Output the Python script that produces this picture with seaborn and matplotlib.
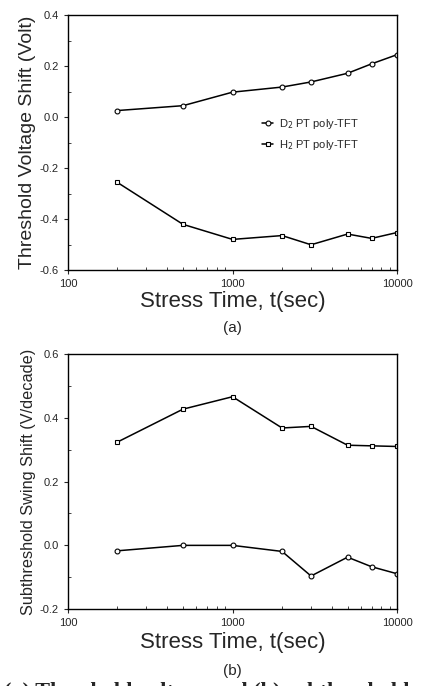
import numpy as np
import pandas as pd
import seaborn as sns
import matplotlib.pyplot as plt
from matplotlib.ticker import MultipleLocator, LogLocator, NullFormatter, FormatStrFormatter

sns.set_style("ticks")
plt.rcParams['font.family'] = ['Liberation Sans', 'DejaVu Sans']

stress_time = [200, 500, 1000, 2000, 3000, 5000, 7000, 10000]

vth_d2 = [0.026, 0.045, 0.098, 0.118, 0.138, 0.172, 0.209, 0.245]
vth_h2 = [-0.256, -0.420, -0.479, -0.464, -0.500, -0.458, -0.475, -0.452]

ss_h2 = [0.324, 0.427, 0.466, 0.368, 0.373, 0.314, 0.312, 0.310]
ss_d2 = [-0.017, 0.0, 0.0, -0.019, -0.096, -0.037, -0.067, -0.089]

labels = ['D$_2$ PT poly-TFT', 'H$_2$ PT poly-TFT']

fig = plt.figure(figsize=(4.22, 6.86), dpi=100)
ax1 = fig.add_axes([0.161, 0.606, 0.780, 0.372])
ax2 = fig.add_axes([0.161, 0.112, 0.780, 0.372])


def draw(ax, d2, h2, legend):
    df = pd.DataFrame({'t': stress_time * 2,
                       'v': d2 + h2,
                       'grp': [labels[0]] * len(d2) + [labels[1]] * len(h2)})
    sns.lineplot(data=df, x='t', y='v', hue='grp', style='grp',
                 markers={labels[0]: 'o', labels[1]: 's'}, dashes=False,
                 palette=['black', 'black'], linewidth=1.1, markersize=3.5,
                 markerfacecolor='white', markeredgecolor='black',
                 markeredgewidth=0.8, ax=ax, legend=legend)
    ax.set_xscale('log')
    ax.set_xlim(100, 10000)
    ax.xaxis.set_minor_locator(LogLocator(base=10, subs=np.arange(2, 10), numticks=20))
    ax.xaxis.set_minor_formatter(NullFormatter())
    ax.set_xticks([100, 1000, 10000])
    ax.set_xticklabels(['100', '1000', '10000'])
    ax.yaxis.set_major_locator(MultipleLocator(0.2))
    ax.yaxis.set_minor_locator(MultipleLocator(0.1))
    ax.yaxis.set_major_formatter(FormatStrFormatter('%.1f'))
    ax.tick_params(which='major', direction='out', length=3, width=0.8, labelsize=8)
    ax.tick_params(which='minor', direction='in', length=2, width=0.6)
    ax.set_xlabel('Stress Time, t(sec)', fontsize=16, labelpad=1)
    for s in ax.spines.values():
        s.set_linewidth(1.0)
        s.set_color('black')


draw(ax1, vth_d2, vth_h2, True)
ax1.set_ylim(-0.6, 0.4)
ax1.set_ylabel('Threshold Voltage Shift (Volt)', fontsize=14, labelpad=3)
ax1.xaxis.labelpad = 1
leg = ax1.legend(loc='upper left', bbox_to_anchor=(0.56, 0.64), frameon=False,
                 fontsize=8, handlelength=1.0, handletextpad=0.5, labelspacing=0.6)
ax1.text(0.5, -0.2, '(a)', transform=ax1.transAxes, ha='center', va='top', fontsize=11)

draw(ax2, ss_d2, ss_h2, False)
ax2.set_ylim(-0.2, 0.6)
ax2.set_ylabel('Subthreshold Swing Shift (V/decade)', fontsize=11.7, labelpad=3)
ax2.xaxis.labelpad = 3
ax2.text(0.5, -0.215, '(b)', transform=ax2.transAxes, ha='center', va='top', fontsize=11)

fig.text(0.01, -0.009, '(a) Threshold voltage and (b) subthreshold',
         family='Liberation Serif', fontsize=16, fontweight='bold', va='center')

fig.savefig('out.png', dpi=100)
